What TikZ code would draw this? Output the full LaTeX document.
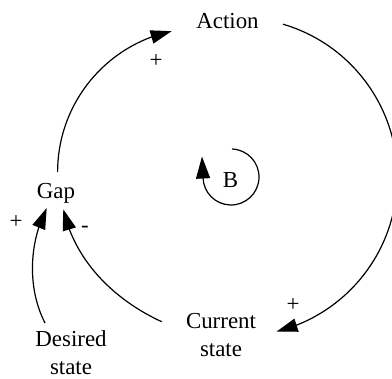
\documentclass[tikz,border=0pt]{standalone}
\usepackage{fontspec}
\setmainfont{Liberation Serif}
\usetikzlibrary{arrows.meta,bending,calc}
\begin{document}
\begin{tikzpicture}[x=1bp,y=-1bp,
  lbl/.style={font=\fontsize{23}{28}\selectfont, inner sep=0pt, align=center},
  pol/.style={font=\fontsize{23}{28}\selectfont, inner sep=0pt},
  link/.style={line width=1.2bp, -{Triangle[length=21bp,width=13.5bp]}},
  looparrow/.style={line width=1.2bp, -{Triangle[length=22bp,width=14bp]}}]
\useasboundingbox (0,0) rectangle (392,379);
% variables
\node[lbl, anchor=base] (Action) at (227.5,28) {Action};
\node[lbl, anchor=base] (Gap) at (56,198) {Gap};
\node[lbl, anchor=base] (Current) at (221,356) {Current\\state};
\node[lbl, anchor=base] (Desired) at (71,374.8) {Desired\\state};
\node[lbl, anchor=base] (B) at (230.5,187) {B};
% connector end points
\coordinate (GapOut) at (57.6,172);
\coordinate (ActionOut) at (283,24.2);
\coordinate (CurrentOut) at (161.7,321.7);
\coordinate (DesiredOut) at (45,323);
\coordinate (GapInA) at (46.7,208);
\coordinate (GapInB) at (63.3,209.3);
\coordinate (LoopStart) at (232,149);
\coordinate (LoopTip) at (202,156.5);
% links
\draw[link] (GapOut) arc[start angle=180, end angle=258, radius=144];
\draw[link] (ActionOut) arc[start angle=-73.6, end angle=76, radius=159.3];
\draw[link] (DesiredOut) .. controls (28,290) and (28,245) .. (GapInA);
\draw[link] (CurrentOut) .. controls (116.3,300.8) and (75.3,263) .. (GapInB);
\draw[looparrow] (LoopStart) arc[start angle=-88, end angle=178, radius=28] -- (LoopTip);
% polarities
\node[pol] (p1) at (156,61) {+};
\node[pol] (p2) at (293,305) {+};
\node[pol] (p3) at (16,222) {+};
\node[pol] (p4) at (85,229) {-};
\end{tikzpicture}
\end{document}
